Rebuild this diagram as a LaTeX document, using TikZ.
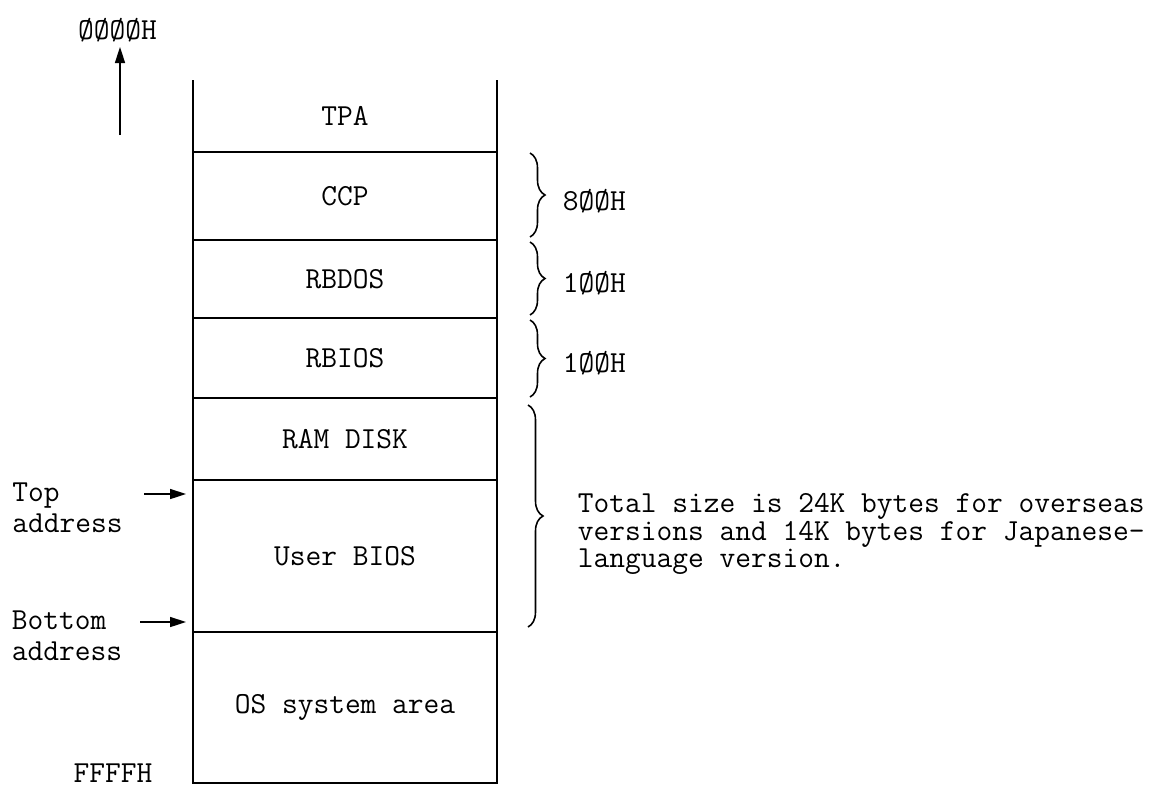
\documentclass[tikz,border=0pt]{standalone}
\usetikzlibrary{arrows.meta, positioning, decorations.pathreplacing}
\newcommand{\memfont}{\ttfamily\fontsize{17.4}{15.65}\selectfont}
\newcommand{\addrfont}{\ttfamily\fontsize{17.4}{17.6}\selectfont}
\tikzset{
  memblock/.style={rectangle, minimum width=6.08cm, inner sep=0pt, outer sep=0pt,
              align=center, font=\memfont},
  wall/.style={line width=1.1pt},
  addrarrow/.style={-{Triangle[length=3.2mm, width=2mm]}, line width=0.9pt},
  sizebrace/.style={decorate, decoration={brace, amplitude=3mm}, line width=0.9pt},
  memnote/.style={font=\memfont, inner sep=0pt, align=left},
}

\begin{document}
\begin{tikzpicture}[node distance=0pt]
    \useasboundingbox (0,0) rectangle (23.2,-15.84);
    % memory map, 0000H at the top
    \node[memblock, minimum height=1.44cm] (tpa) at (6.9,-2.32) {TPA};
    \node[memblock, minimum height=1.76cm, below=of tpa] (ccp) {CCP};
    \node[memblock, minimum height=1.56cm, below=of ccp] (rbdos) {RBDOS};
    \node[memblock, minimum height=1.6cm, below=of rbdos] (rbios) {RBIOS};
    \node[memblock, minimum height=1.64cm, below=of rbios] (ramdisk) {RAM DISK};
    \node[memblock, minimum height=3.04cm, below=of ramdisk] (userbios) {User BIOS};
    \node[memblock, minimum height=3.02cm, below=of userbios] (ossys) {OS system area};

    \draw[wall] (tpa.north west) -- (ossys.south west) -- (ossys.south east) -- (tpa.north east);
    \foreach \blk in {ccp, rbdos, rbios, ramdisk, userbios, ossys}
        \draw[wall] (\blk.north west) -- (\blk.north east);

    % addresses on the left
    \node[memnote] (zero) at (2.35,-0.6) {ØØØØH};
    \node[memnote] (ffff) at (2.26,-15.46) {FFFFH};
    \node[memnote, font=\addrfont, anchor=west] (topaddr) at (0.24,-10.15) {Top\\address};
    \node[memnote, font=\addrfont, anchor=west] (botaddr) at (0.23,-12.72) {Bottom\\address};

    \coordinate (uptail) at (2.4,-2.7);
    \coordinate (uphead) at (2.4,-0.94);
    \draw[addrarrow] (uptail) -- (uphead);
    \draw[addrarrow] ([xshift=-0.98cm, yshift=-0.28cm]userbios.north west)
        -- ([xshift=-0.14cm, yshift=-0.28cm]userbios.north west);
    \draw[addrarrow] ([xshift=-1.06cm, yshift=0.2cm]userbios.south west)
        -- ([xshift=-0.14cm, yshift=0.2cm]userbios.south west);

    % sizes on the right
    \draw[sizebrace] ([xshift=0.66cm, yshift=-0.02cm]ccp.north east) -- ([xshift=0.66cm, yshift=0.06cm]ccp.south east)
        node[memnote, midway, anchor=west, xshift=0.64cm, yshift=-0.12cm] (ccpsize) {8ØØH};
    \draw[sizebrace] ([xshift=0.66cm, yshift=-0.04cm]rbdos.north east) -- ([xshift=0.66cm, yshift=0.06cm]rbdos.south east)
        node[memnote, midway, anchor=west, xshift=0.64cm, yshift=-0.1cm] (rbdossize) {1ØØH};
    \draw[sizebrace] ([xshift=0.66cm, yshift=-0.04cm]rbios.north east) -- ([xshift=0.66cm, yshift=0.02cm]rbios.south east)
        node[memnote, midway, anchor=west, xshift=0.64cm, yshift=-0.1cm] (rbiossize) {1ØØH};
    \draw[sizebrace] ([xshift=0.62cm, yshift=-0.14cm]ramdisk.north east) -- ([xshift=0.62cm, yshift=0.1cm]userbios.south east)
        node[memnote, midway, anchor=west, xshift=0.98cm, yshift=-0.36cm] (totalnote)
        {Total size is 24K bytes for overseas\\versions and 14K bytes for Japanese-\\language version.};
\end{tikzpicture}
\end{document}
